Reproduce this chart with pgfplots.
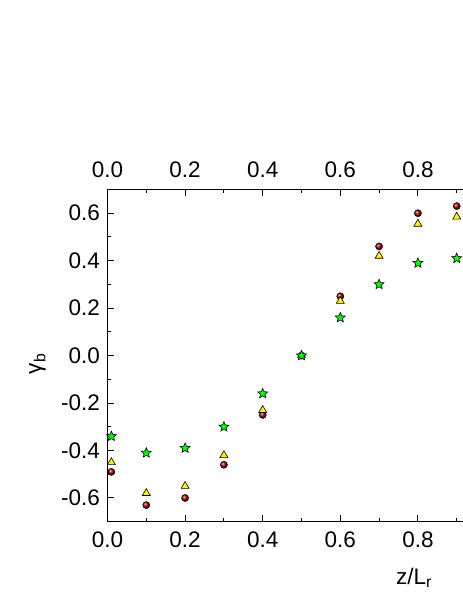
\documentclass[border=0pt]{standalone}
\usepackage{pgfplots}
\pgfplotsset{compat=1.18}
\usepackage{fontspec}
\setmainfont{Liberation Sans}

% filled five-pointed star
\pgfdeclareplotmark{fstar}{%
  \pgfpathmoveto{\pgfpointpolar{90}{\pgfplotmarksize}}%
  \foreach \a in {162,234,306,378}{%
    \pgfpathlineto{\pgfpointpolar{\a-36}{0.45\pgfplotmarksize}}%
    \pgfpathlineto{\pgfpointpolar{\a}{\pgfplotmarksize}}%
  }%
  \pgfpathlineto{\pgfpointpolar{54}{0.45\pgfplotmarksize}}%
  \pgfpathclose
  \pgfusepathqfillstroke
}

\definecolor{ballred}{RGB}{150,0,0}

\newcommand{\lblfont}{\fontsize{22.5bp}{27bp}\selectfont}

\pgfplotsset{
  common/.style={
    at={(0,0)}, anchor=south west,
    scale only axis, width=388bp, height=332.2bp,
    xmin=0, xmax=1, ymin=-0.7, ymax=0.7,
    xtick={0,0.2,0.4,0.6,0.8},
    minor xtick={0.1,0.3,0.5,0.7,0.9},
    tick align=inside,
    major tick length=6.5bp, minor tick length=3.5bp,
    every tick/.style={black, line width=1bp},
    axis line style={line width=1.2bp},
    /pgf/number format/assume math mode=true,
    /pgf/number format/fixed, /pgf/number format/fixed zerofill,
    /pgf/number format/precision=1,
    ticklabel style={font=\lblfont},
    clip=false,
  },
}

\begin{document}
\lblfont
\begin{tikzpicture}
\useasboundingbox (-107.5bp,-77.3bp) rectangle (355.5bp,521.7bp);
\clip (-107.5bp,-77.3bp) rectangle (355.5bp,521.7bp);

\begin{axis}[common,
  ytick={-0.6,-0.4,-0.2,0,0.2,0.4,0.6},
  minor y tick num=1,
  xticklabel style={yshift=-2bp},
]
\addplot[only marks, mark=ball, mark size=3.6bp, ball color=ballred]
  coordinates {
    (0.01,-0.49) (0.1,-0.63) (0.2,-0.60) (0.3,-0.46) (0.4,-0.25)
    (0.5,0.00) (0.6,0.25) (0.7,0.46) (0.8,0.60) (0.9,0.63)
  };
\addplot[only marks, mark=triangle*, mark size=4.6bp,
  mark options={fill=yellow, draw=black, line width=0.6bp}]
  coordinates {
    (0.01,-0.45) (0.1,-0.58) (0.2,-0.55) (0.3,-0.42) (0.4,-0.23)
    (0.5,0.00) (0.6,0.23) (0.7,0.42) (0.8,0.555) (0.9,0.585)
  };
\addplot[only marks, mark=fstar, mark size=5.2bp,
  mark options={fill=green, draw=black, line width=0.6bp}]
  coordinates {
    (0.01,-0.34) (0.1,-0.41) (0.2,-0.39) (0.3,-0.30) (0.4,-0.16)
    (0.5,0.00) (0.6,0.16) (0.7,0.30) (0.8,0.39) (0.9,0.41)
  };
\node[anchor=north, inner sep=0pt] at ([yshift=-46bp]rel axis cs:0.79,0)
  {z/L\textsubscript{r}};
\node[rotate=90, anchor=center, inner sep=0pt] at ([xshift=-70bp]rel axis cs:0,0.475)
  {γ\textsubscript{b}};
\end{axis}

% top axis with its own tick labels
\begin{axis}[common,
  axis x line*=top, axis y line=none,
  xticklabel pos=upper,
  xticklabel style={yshift=4bp},
]
\addplot[draw=none] coordinates {(0,0)};
\end{axis}
\end{tikzpicture}
\end{document}
